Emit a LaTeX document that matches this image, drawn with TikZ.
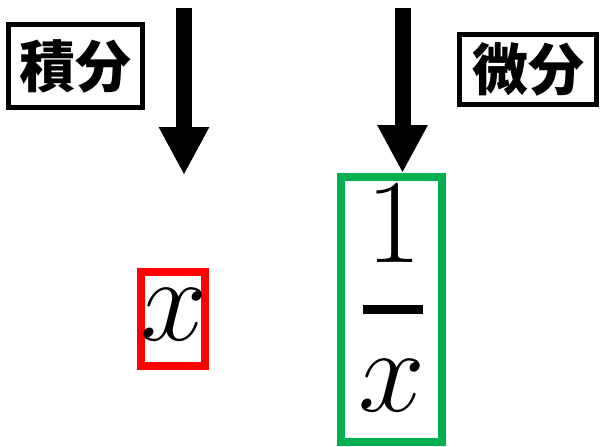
\documentclass[tikz,border=0pt]{standalone}
\usepackage{fix-cm}
\usepackage{fontspec}
\newfontfamily\jpfont{Noto Sans CJK JP}
\usepackage{tikz}
\usetikzlibrary{arrows.meta}
\usepackage{xcolor}
\definecolor{xred}{RGB}{255,0,0}
\definecolor{xgreen}{RGB}{0,176,80}

\begin{document}
\begin{tikzpicture}[x=1pt, y=-1pt,
  termbox/.style={draw, line width=5pt, inner sep=0pt,
                  font=\jpfont\bfseries\fontsize{56}{56}\selectfont},
  ansbox/.style={draw=#1, line width=8pt, inner sep=0pt},
  bigmath/.style={inner sep=0pt, font=\fontsize{120}{120}\selectfont},
  down/.style={line width=16pt, -{Triangle[width=47pt,length=48pt]}},
]
  \useasboundingbox (0,0) rectangle (600,447);

  \node[termbox, minimum width=134pt, minimum height=83pt] (sekibun) at (75.5,66)  {積分};
  \node[termbox, minimum width=137pt, minimum height=70pt] (bibun)   at (528,69.5) {微分};

  \node[ansbox=xred,   minimum width=64pt,  minimum height=94pt]  (xbox)    at (173,319)     {};
  \node[ansbox=xgreen, minimum width=101pt, minimum height=265pt] (fracbox) at (391.5,309.5) {};

  \node[bigmath] (xvar) at (174,314.5) {$x$};
  \node[bigmath] (num)  at (394,224)   {$1$};
  \node[bigmath] (den)  at (391.5,386) {$x$};
  \draw[line width=9pt] (363,309.5) -- (423,309.5);

  \coordinate (topL) at (184,8);
  \coordinate (tipL) at (184,175);
  \coordinate (topR) at (402.5,8);

  \draw[down] (topL) -- (tipL);
  \draw[down] (topR) -- (topR |- fracbox.north);
\end{tikzpicture}
\end{document}
